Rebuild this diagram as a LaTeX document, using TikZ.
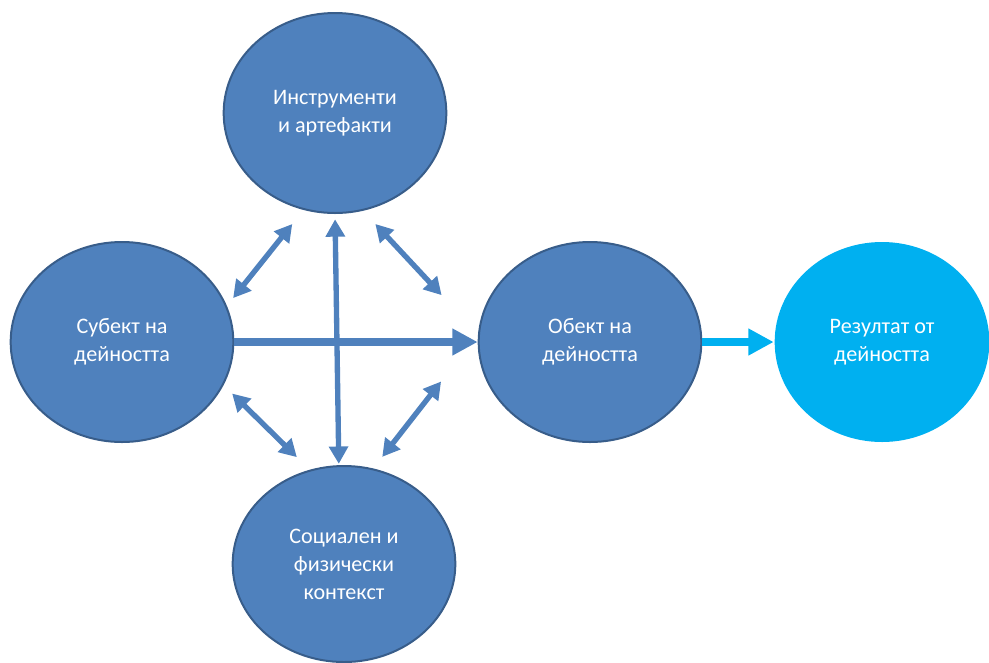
\documentclass[tikz,border=0pt]{standalone}
\usepackage{fontspec}
\setmainfont{Carlito}
\usetikzlibrary{arrows.meta,shapes.geometric}
\definecolor{blobblue}{HTML}{4F81BD}
\definecolor{blobedge}{HTML}{385D8A}
\definecolor{resblue}{HTML}{00B0F0}
\begin{document}
\begin{tikzpicture}[x=0.75pt,y=-0.75pt,
    blob/.style={ellipse,draw=blobedge,line width=1.5pt,fill=blobblue,text=white,
        minimum width=167pt,minimum height=150pt,align=center,
        font=\fontsize{16.6}{21}\selectfont},
    link/.style={blobblue,line width=4pt,
        {Triangle[length=13pt,width=14pt]}-{Triangle[length=13pt,width=14pt]}},
    flow/.style={line width=6pt,-{Triangle[length=19pt,width=19pt]}}]
    \useasboundingbox (0,0) rectangle (989,662);
    \node[blob] (tools) at (335,113) {Инструменти\\и артефакти};
    \node[blob] (subj) at (122,342) {Субект на\\дейността};
    \node[blob] (obj) at (590,342) {Обект на\\дейността};
    \node[blob,draw=none,fill=resblue,minimum width=161pt] (res) at (882,342) {Резултат от\\дейността};
    \node[blob,minimum height=147pt] (context) at (344,564) {Социален и\\физически\\контекст};
    \draw[link,shorten <=7.5pt,shorten >=13.5pt] (subj.19) -- (tools.252);
    \draw[link,shorten <=13.5pt,shorten >=40pt] (tools.286) -- (obj.176);
    \draw[link,shorten <=9pt,shorten >=13.5pt] (subj.337) -- (context.110);
    \draw[link,shorten <=11pt,shorten >=45pt] (context.73) -- (obj.176);
    \draw[link,shorten <=4pt,shorten >=1pt] (tools.south) -- (context.93);
    \draw[flow,blobblue] (subj.east) -- (obj.west);
    \draw[flow,resblue] (obj.east) -- (res.west);
\end{tikzpicture}
\end{document}
